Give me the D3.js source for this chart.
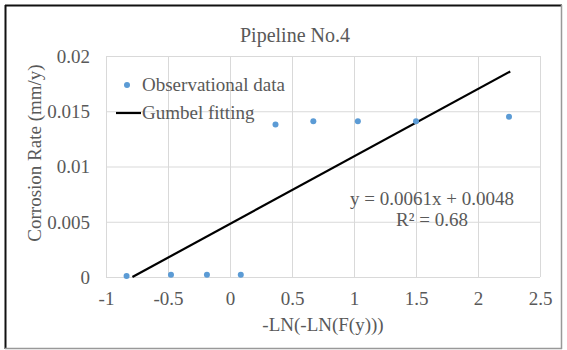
<!DOCTYPE html>
<html><head><meta charset="utf-8">
<script src="https://cdn.jsdelivr.net/npm/d3@7/dist/d3.min.js"></script>
<style>body{margin:0;background:#fff}svg{display:block}</style>
</head><body><svg id="c" width="567" height="350" style="font-family:'Liberation Serif'"></svg>
<script>
const obsX = [-0.834, -0.476, -0.186, 0.087, 0.367, 0.672, 1.031, 1.500, 2.250];
const obsY = [0.0001, 0.0002, 0.0002, 0.0002, 0.0138, 0.0141, 0.0141, 0.0141, 0.0145];
const fitX = [-0.787, 2.26];
const fitY = [0, 0.0186];
const xTicks = [-1, -0.5, 0, 0.5, 1, 1.5, 2, 2.5];
const yTicks = [0, 0.005, 0.01, 0.015, 0.02];
const xTickLabels = ["-1", "-0.5", "0", "0.5", "1", "1.5", "2", "2.5"];
const yTickLabels = ["0", "0.005", "0.01", "0.015", "0.02"];

const FONT = "'Liberation Serif'";
const TXT = "#595959";
const svg = d3.select("#c");
const L = 106, R = 540, T = 56, B = 277;
const x = d3.scaleLinear().domain([-1, 2.5]).range([L, R]);
const y = d3.scaleLinear().domain([0, 0.02]).range([B, T]);

function txt(sel, size) {
  return sel.style("font-family", FONT).style("font-size", size + "px").style("fill", TXT);
}

// frame
svg.append("line").attr("x1",5).attr("y1",5.5).attr("x2",562).attr("y2",5.5).attr("stroke","#111").attr("stroke-width",2);
svg.append("line").attr("x1",5.5).attr("y1",5).attr("x2",5.5).attr("y2",349).attr("stroke","#111").attr("stroke-width",2);
svg.append("line").attr("x1",561.5).attr("y1",5).attr("x2",561.5).attr("y2",349).attr("stroke","#999").attr("stroke-width",1.5);
svg.append("line").attr("x1",5).attr("y1",348.5).attr("x2",562).attr("y2",348.5).attr("stroke","#999").attr("stroke-width",1.5);

// grid via axes
const gx = svg.append("g").attr("transform",`translate(0,${B})`)
  .call(d3.axisBottom(x).tickValues(xTicks).tickSize(-(B-T)).tickFormat((d,i)=>xTickLabels[i]));
gx.attr("font-family", null).attr("font-size", null);
gx.select(".domain").remove();
gx.selectAll("line").attr("stroke","#d9d9d9").attr("stroke-width",1);
txt(gx.selectAll("text"), 19).attr("dy",0).attr("y",28);

const gy = svg.append("g").attr("transform",`translate(${L},0)`)
  .call(d3.axisLeft(y).tickValues(yTicks).tickSize(-(R-L)).tickFormat((d,i)=>yTickLabels[i]));
gy.attr("font-family", null).attr("font-size", null);
gy.select(".domain").remove();
gy.selectAll("line").attr("stroke","#d9d9d9").attr("stroke-width",1);
txt(gy.selectAll("text"), 19).attr("x",-16).attr("dy","0.33em");

// fit line
svg.append("path").datum(fitX.map((v,i)=>[v,fitY[i]]))
  .attr("d", d3.line().x(d=>x(d[0])).y(d=>y(d[1])))
  .attr("stroke","#000").attr("stroke-width",2.2).attr("fill","none");

// points
svg.selectAll("circle.pt").data(obsX.map((v,i)=>[v,obsY[i]])).enter().append("circle")
  .attr("class","pt").attr("cx",d=>x(d[0])).attr("cy",d=>y(d[1])).attr("r",3).attr("fill","#5b9bd5");

// title
txt(svg.append("text").attr("x",295).attr("y",42).attr("text-anchor","middle"), 20).text("Pipeline No.4");

// axis titles
txt(svg.append("text").attr("x",323).attr("y",331).attr("text-anchor","middle"), 19).text("-LN(-LN(F(y)))");
txt(svg.append("text").attr("transform","translate(41,153) rotate(-90)").attr("text-anchor","middle"), 19).text("Corrosion Rate (mm/y)");

// legend
svg.append("circle").attr("cx",127).attr("cy",85).attr("r",3).attr("fill","#5b9bd5");
txt(svg.append("text").attr("x",142).attr("y",91), 19).text("Observational data");
svg.append("line").attr("x1",116).attr("x2",141).attr("y1",113).attr("y2",113).attr("stroke","#000").attr("stroke-width",2.2);
txt(svg.append("text").attr("x",142).attr("y",119), 19).text("Gumbel fitting");

// equation
txt(svg.append("text").attr("x",432).attr("y",205).attr("text-anchor","middle"), 19).text("y = 0.0061x + 0.0048");
txt(svg.append("text").attr("x",432).attr("y",226).attr("text-anchor","middle"), 19).text("R² = 0.68");
</script></body></html>
